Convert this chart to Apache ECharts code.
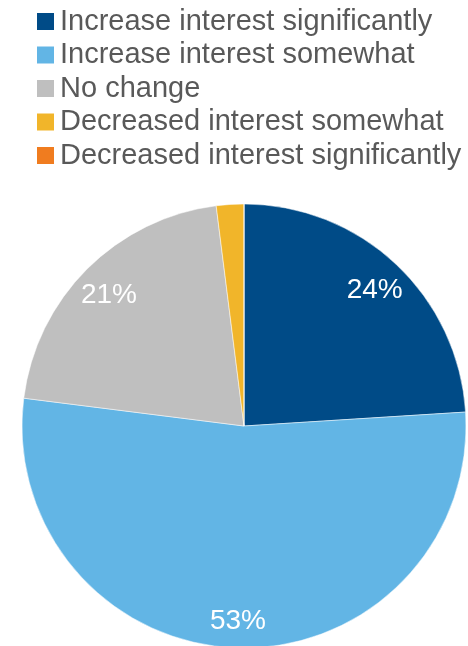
<!DOCTYPE html>
<html>
<head>
<meta charset="utf-8">
<script src="https://cdn.jsdelivr.net/npm/echarts@6/dist/echarts.min.js"></script>
<style>
  html, body { margin: 0; padding: 0; background: #fff; }
  #chart { width: 468px; height: 646px; }
</style>
</head>
<body>
<div id="chart"></div>
<script>
// survey answers, share of respondents (%)
const categories = [
  "Increase interest significantly",
  "Increase interest somewhat",
  "No change",
  "Decreased interest somewhat",
  "Decreased interest significantly",
];
const shares = [24, 53, 21, 2, 0];
const colors = ["#004B87", "#62B5E5", "#BFBFBF", "#F1B52A", "#F07C1F"];

const chart = echarts.init(document.getElementById("chart"));

const pieData = categories.map((name, i) => ({
  name: name,
  value: shares[i],
  itemStyle: { color: colors[i] },
}));

const option = {
  animation: false,
  legend: {
    orient: "vertical",
    left: 35,
    top: 7,
    padding: 0,
    itemWidth: 19,
    itemHeight: 19,
    itemGap: 4.5,
    icon: "rect",
    textStyle: {
      fontFamily: "Liberation Sans, Arial",
      fontSize: 29,
      lineHeight: 28,
      color: "#595959",
    },
    data: categories,
  },
  series: [
    {
      type: "pie",
      center: [244, 426],
      radius: 222,
      startAngle: 90,
      clockwise: true,
      label: { show: false },
      labelLine: { show: false },
      itemStyle: { borderColor: "#fff", borderWidth: 0.5 },
      emphasis: { disabled: true },
      data: pieData,
    },
    // transparent ring, only used to place the percent labels further out
    {
      type: "pie",
      center: [244, 430],
      radius: [154, 222],
      startAngle: 90,
      clockwise: true,
      silent: true,
      legendHoverLink: false,
      itemStyle: { color: "rgba(0,0,0,0)" },
      label: {
        show: true,
        position: "inside",
        fontFamily: "Liberation Sans, Arial",
        fontSize: 28,
        color: "#fff",
        formatter: (p) => (p.value >= 5 ? p.value + "%" : ""),
      },
      labelLine: { show: false },
      emphasis: { disabled: true },
      data: categories.map((name, i) => ({ name: name, value: shares[i] })),
    },
  ],
};

chart.setOption(option);
</script>
</body>
</html>
